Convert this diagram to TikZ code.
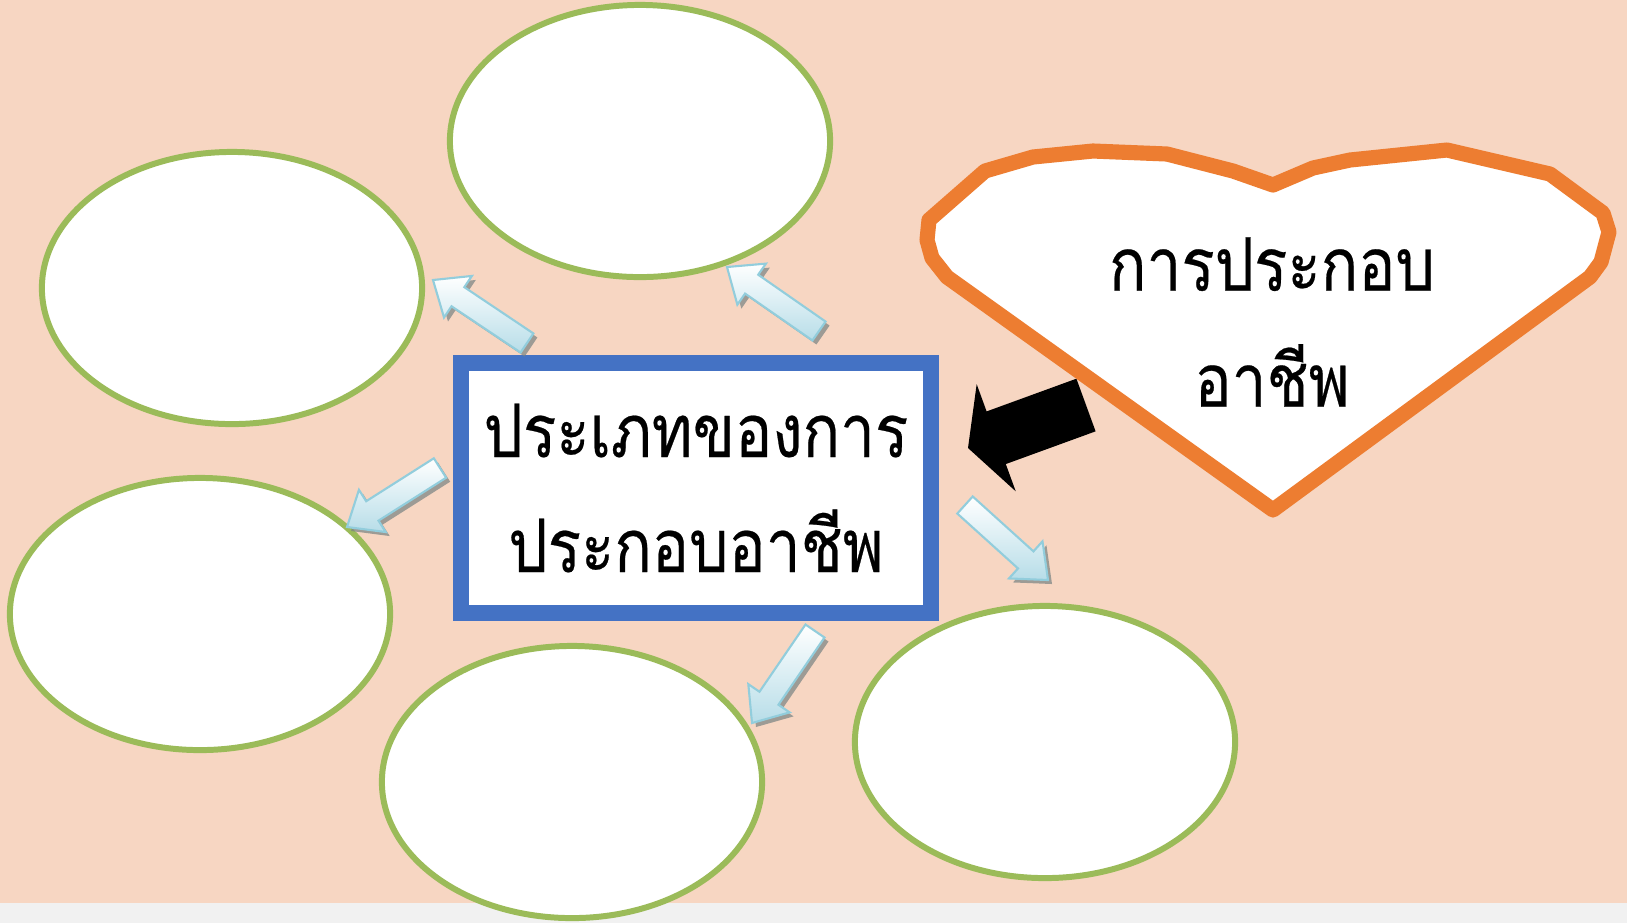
\documentclass[tikz,border=0pt]{standalone}
\usepackage{fontspec}
\newfontfamily\thaifont[Script=Thai,FakeStretch=0.84,FakeBold=0.3]{Loma}
\usetikzlibrary{calc,shapes.geometric}

\definecolor{peach}{RGB}{247,214,194}
\definecolor{stripgray}{RGB}{241,241,241}
\definecolor{leafgreen}{RGB}{155,187,89}
\definecolor{boxblue}{RGB}{68,114,196}
\definecolor{heartorange}{RGB}{237,125,49}
\definecolor{arrowblue}{RGB}{183,221,232}
\definecolor{arrowedge}{RGB}{146,205,220}
\definecolor{arrowshadow}{RGB}{120,130,130}

% block arrow: [style] {tail} {tip} {half shaft} {half head} {head length}
\newcommand{\blockarrow}[6][]{%
  \coordinate (#2-base) at ($(#3)!#6!(#2)$);
  \path[#1] ($(#2)!#4!90:(#3)$) -- ($(#2-base)!#4!90:(#3)$) -- ($(#2-base)!#5!90:(#3)$) -- (#3)
    -- ($(#2-base)!#5!-90:(#3)$) -- ($(#2-base)!#4!-90:(#3)$) -- ($(#2)!#4!-90:(#3)$) -- cycle;}

\begin{document}
\begin{tikzpicture}[x=0.01cm, y=-0.01cm,
    bubble/.style={ellipse, draw=leafgreen, line width=1.7pt, fill=white,
      minimum width=3.8cm, minimum height=2.72cm, inner sep=0pt},
    typebox/.style={draw=boxblue, line width=4.55pt, fill=white,
      minimum width=4.70cm, minimum height=2.49cm, inner sep=0pt, align=center,
      font=\thaifont\fontsize{21}{32.7}\selectfont},
    heartline/.style={draw=heartorange, line width=4.3pt, fill=white, line join=round},
    hearttext/.style={align=center, font=\thaifont\fontsize{21}{33}\selectfont},
    softarrow/.style={top color=white, bottom color=arrowblue, draw=arrowedge, line width=0.6pt},
    shadowarrow/.style={fill=arrowshadow, opacity=0.7, transform canvas={shift={(4,4)}}},
    darkarrow/.style={fill=black}]

    % Fundo
    \useasboundingbox (0,0) rectangle (1627,923);
    \fill[peach] (0,0) rectangle (1627,903);
    \fill[stripgray] (0,903) rectangle (1627,923);

    % Elipses vazias
    \node[bubble] (top)      at (640,141) {};
    \node[bubble] (upleft)   at (232,288) {};
    \node[bubble] (lowleft)  at (200,614) {};
    \node[bubble] (bottom)   at (572,782) {};
    \node[bubble] (lowright) at (1045,742) {};

    % Caixa central
    \node[typebox] (types) at (696,488) {ประเภทของการ\\ประกอบอาชีพ};

    % Setas azuis: cauda (t) -> ponta (h)
    \coordinate (t1) at (527,343); \coordinate (h1) at (433,280);
    \coordinate (t2) at (819,331); \coordinate (h2) at (727,267);
    \coordinate (t3) at (440,468); \coordinate (h3) at (347,527);
    \coordinate (t4) at (815,631); \coordinate (h4) at (752,723);
    \coordinate (t5) at (965,505); \coordinate (h5) at (1048,580);
    \foreach \i in {1,...,5} {
      \blockarrow[shadowarrow]{t\i}{h\i}{0.115cm}{0.25cm}{0.30cm}
      \blockarrow[softarrow]{t\i}{h\i}{0.115cm}{0.25cm}{0.30cm}
    }

    % Seta preta do coracao para a caixa
    \coordinate (tb) at (1086,405); \coordinate (hb) at (968,448);
    \blockarrow[darkarrow]{tb}{hb}{0.28cm}{0.57cm}{0.30cm}

    % Coracao (ponta em baixo, reentrancia em cima)
    \draw[heartline] (1273,510) -- (947,277) -- (932,258) -- (927,240) -- (929,220)
      -- (985,171) -- (1033,157) -- (1093,151) -- (1167,154) -- (1233,171) -- (1273,185)
      -- (1313,168) -- (1350,160) -- (1447,150) -- (1550,174) -- (1603,213)
      -- (1609,232) -- (1601,262) -- (1590,277) -- cycle;
    \node[hearttext] (career) at (1272,322) {การประกอบ\\อาชีพ};

\end{tikzpicture}
\end{document}
